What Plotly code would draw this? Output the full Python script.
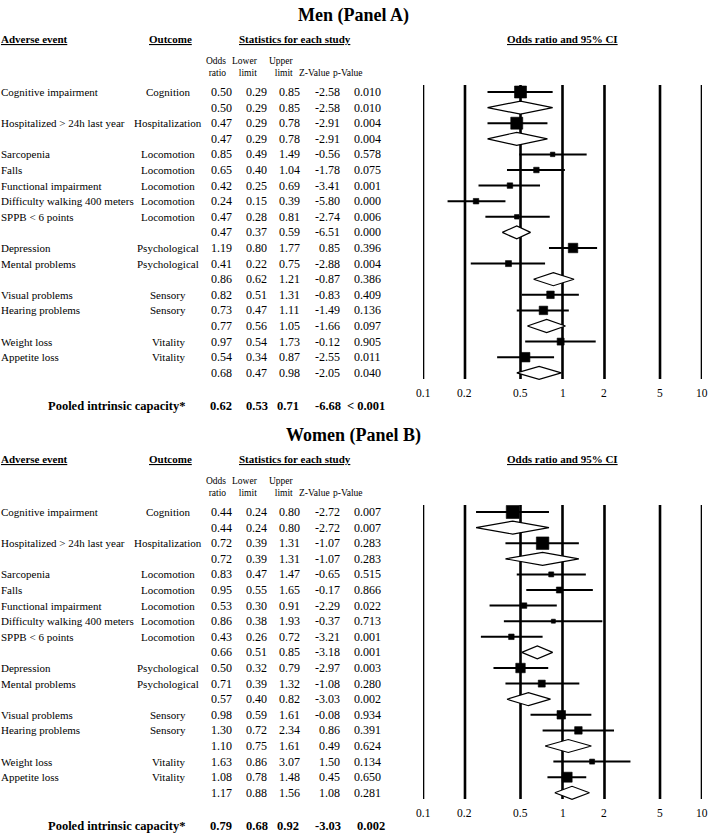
import math
import plotly.graph_objects as go

# ---------------- data ----------------
names = ["Cognitive impairment", "", "Hospitalized > 24h last year", "",
         "Sarcopenia", "Falls", "Functional impairment", "Difficulty walking 400 meters",
         "SPPB < 6 points", "", "Depression", "Mental problems", "",
         "Visual problems", "Hearing problems", "", "Weight loss", "Appetite loss", ""]
outcomes = ["Cognition", "", "Hospitalization", "",
            "Locomotion", "Locomotion", "Locomotion", "Locomotion", "Locomotion", "",
            "Psychological", "Psychological", "",
            "Sensory", "Sensory", "", "Vitality", "Vitality", ""]

men_or = [0.50, 0.50, 0.47, 0.47, 0.85, 0.65, 0.42, 0.24, 0.47, 0.47, 1.19, 0.41, 0.86, 0.82, 0.73, 0.77, 0.97, 0.54, 0.68]
men_lo = [0.29, 0.29, 0.29, 0.29, 0.49, 0.40, 0.25, 0.15, 0.28, 0.37, 0.80, 0.22, 0.62, 0.51, 0.47, 0.56, 0.54, 0.34, 0.47]
men_hi = [0.85, 0.85, 0.78, 0.78, 1.49, 1.04, 0.69, 0.39, 0.81, 0.59, 1.77, 0.75, 1.21, 1.31, 1.11, 1.05, 1.73, 0.87, 0.98]
men_z = [-2.58, -2.58, -2.91, -2.91, -0.56, -1.78, -3.41, -5.80, -2.74, -6.51, 0.85, -2.88, -0.87, -0.83, -1.49, -1.66, -0.12, -2.55, -2.05]
men_p = ["0.010", "0.010", "0.004", "0.004", "0.578", "0.075", "0.001", "0.000", "0.006", "0.000",
         "0.396", "0.004", "0.386", "0.409", "0.136", "0.097", "0.905", "0.011", "0.040"]
men_weight = [12, 0, 12, 0, 4.5, 5.5, 5.5, 5.5, 4.5, 0, 9.5, 6, 0, 7.5, 8.5, 0, 7, 9.5, 0]
men_pooled = ["0.62", "0.53", "0.71", "-6.68", "< 0.001"]

women_or = [0.44, 0.44, 0.72, 0.72, 0.83, 0.95, 0.53, 0.86, 0.43, 0.66, 0.50, 0.71, 0.57, 0.98, 1.30, 1.10, 1.63, 1.08, 1.17]
women_lo = [0.24, 0.24, 0.39, 0.39, 0.47, 0.55, 0.30, 0.38, 0.26, 0.51, 0.32, 0.39, 0.40, 0.59, 0.72, 0.75, 0.86, 0.78, 0.88]
women_hi = [0.80, 0.80, 1.31, 1.31, 1.47, 1.65, 0.91, 1.93, 0.72, 0.85, 0.79, 1.32, 0.82, 1.61, 2.34, 1.61, 3.07, 1.48, 1.56]
women_z = [-2.72, -2.72, -1.07, -1.07, -0.65, -0.17, -2.29, -0.37, -3.21, -3.18, -2.97, -1.08, -3.03, -0.08, 0.86, 0.49, 1.50, 0.45, 1.08]
women_p = ["0.007", "0.007", "0.283", "0.283", "0.515", "0.866", "0.022", "0.713", "0.001", "0.001",
           "0.003", "0.280", "0.002", "0.934", "0.391", "0.624", "0.134", "0.650", "0.281"]
women_weight = [13, 0, 12.5, 0, 5, 6, 5.5, 4, 5.5, 0, 9.5, 7, 0, 8.5, 7.5, 0, 5, 10, 0]
women_pooled = ["0.79", "0.68", "0.92", "-3.03", "0.002"]

tick_vals = [0.1, 0.2, 0.5, 1, 2, 5, 10]
tick_labels = ["0.1", "0.2", "0.5", "1", "2", "5", "10"]

# ---------------- layout constants ----------------
W, H = 709, 840
FONT = "Liberation Serif"
ROW0 = 92.0      # pixel y of first row within a panel
PITCH = 15.6     # row pitch in px
PANEL_H = 420.0
DIAMOND_H = 6.5 / PITCH


def r(px):
    return (px - ROW0) / PITCH


fig = go.Figure()

yrange = [r(PANEL_H), r(0)]
fig.update_layout(
    width=W, height=H,
    margin=dict(l=0, r=0, t=0, b=0),
    paper_bgcolor="white", plot_bgcolor="rgba(0,0,0,0)",
    showlegend=False,
    xaxis=dict(range=[0, W], domain=[0, 1], visible=False, fixedrange=True),
    xaxis2=dict(type="log", range=[-1, 1], domain=[423 / W, 702 / W], visible=False,
                fixedrange=True, anchor="y"),
    yaxis=dict(range=yrange, domain=[0.5, 1], visible=False, fixedrange=True),
    yaxis2=dict(range=yrange, domain=[0, 0.5], visible=False, fixedrange=True, anchor="x"),
)


def ann(x, y, text, yref, anchor="center", size=11.5, bold=False, align="center"):
    if bold:
        text = "<b>" + text + "</b>"
    fig.add_annotation(x=x, y=y, xref="x", yref=yref, text=text, showarrow=False,
                       xanchor=anchor, yanchor="middle", align=align, borderpad=0,
                       font=dict(family=FONT, size=size, color="black"))


def add_panel(ya, title, ors, los, his, zs, ps, weights, pooled):
    n = len(names)
    summary = [names[i] == "" for i in range(n)]

    # reference lines
    vx, vy = [], []
    for t in tick_vals:
        vx += [t, t, None]
        vy += [r(85), r(379), None]
    fig.add_trace(go.Scatter(x=vx, y=vy, mode="lines", xaxis="x2", yaxis=ya,
                             line=dict(color="black", width=2.6), hoverinfo="skip"))

    # whiskers
    wx, wy = [], []
    for i in range(n):
        if not summary[i]:
            wx += [los[i], his[i], None]
            wy += [i, i, None]
    fig.add_trace(go.Scatter(x=wx, y=wy, mode="lines", xaxis="x2", yaxis=ya,
                             line=dict(color="black", width=2), hoverinfo="skip"))

    # squares
    sx = [ors[i] for i in range(n) if not summary[i]]
    sy = [i for i in range(n) if not summary[i]]
    ss = [weights[i] for i in range(n) if not summary[i]]
    fig.add_trace(go.Scatter(x=sx, y=sy, mode="markers", xaxis="x2", yaxis=ya,
                             marker=dict(symbol="square", size=ss, color="black", opacity=1,
                                         line=dict(width=0.6, color="black")),
                             hoverinfo="skip"))

    # diamonds
    dx, dy = [], []
    for i in range(n):
        if summary[i]:
            dx += [los[i], ors[i], his[i], ors[i], los[i], None]
            dy += [i, i - DIAMOND_H, i, i + DIAMOND_H, i, None]
    fig.add_trace(go.Scatter(x=dx, y=dy, mode="lines", fill="toself", fillcolor="white",
                             xaxis="x2", yaxis=ya,
                             line=dict(color="black", width=1.2), hoverinfo="skip"))

    # titles / headers
    ann(353, r(15), title, ya, size=18, bold=True)
    ann(0, r(39), "<u>Adverse event</u>", ya, anchor="left", size=11, bold=True)
    ann(170, r(39), "<u>Outcome</u>", ya, size=11, bold=True)
    ann(295, r(39), "<u>Statistics for each study</u>", ya, size=11, bold=True)
    ann(562, r(39), "<u>Odds ratio and 95% CI</u>", ya, size=11, bold=True)

    ann(227, r(67), "Odds<br>ratio", ya, anchor="right", size=9.5, align="right")
    ann(259, r(67), "Lower<br>limit", ya, anchor="right", size=9.5, align="right")
    ann(295, r(67), "Upper<br>limit", ya, anchor="right", size=9.5, align="right")
    ann(331, r(72.5), "Z-Value", ya, anchor="right", size=9.5)
    ann(364, r(72.5), "p-Value", ya, anchor="right", size=9.5)

    # rows
    for i in range(n):
        if names[i]:
            ann(0, i, names[i], ya, anchor="left", size=11)
        if outcomes[i]:
            ann(168, i, outcomes[i], ya, size=11)
        ann(233, i, f"{ors[i]:.2f}", ya, anchor="right", size=12)
        ann(268, i, f"{los[i]:.2f}", ya, anchor="right", size=12)
        ann(301, i, f"{his[i]:.2f}", ya, anchor="right", size=12)
        ann(341, i, f"{zs[i]:.2f}", ya, anchor="right", size=12)
        ann(382, i, ps[i], ya, anchor="right", size=12)

    # axis tick labels (annotation x on a log axis is given in log10 units)
    for v, lab in zip(tick_vals, tick_labels):
        fig.add_annotation(x=math.log10(v), y=r(393), xref="x2", yref=ya, text=lab,
                           showarrow=False, xanchor="center", yanchor="middle", borderpad=0,
                           font=dict(family=FONT, size=11.5, color="black"))

    # pooled
    py = r(406)
    ann(187, py, "Pooled intrinsic capacity*", ya, anchor="right", size=12.5, bold=True)
    for xe, val in zip([233, 269, 300, 342, 386], pooled):
        ann(xe, py, val, ya, anchor="right", size=12.5, bold=True)


add_panel("y", "Men (Panel A)", men_or, men_lo, men_hi, men_z, men_p, men_weight, men_pooled)
add_panel("y2", "Women (Panel B)", women_or, women_lo, women_hi, women_z, women_p, women_weight, women_pooled)

fig.write_html("out.html", config={"displayModeBar": False, "staticPlot": True},
               post_script="document.body.style.margin='0';document.body.style.overflow='hidden';")
